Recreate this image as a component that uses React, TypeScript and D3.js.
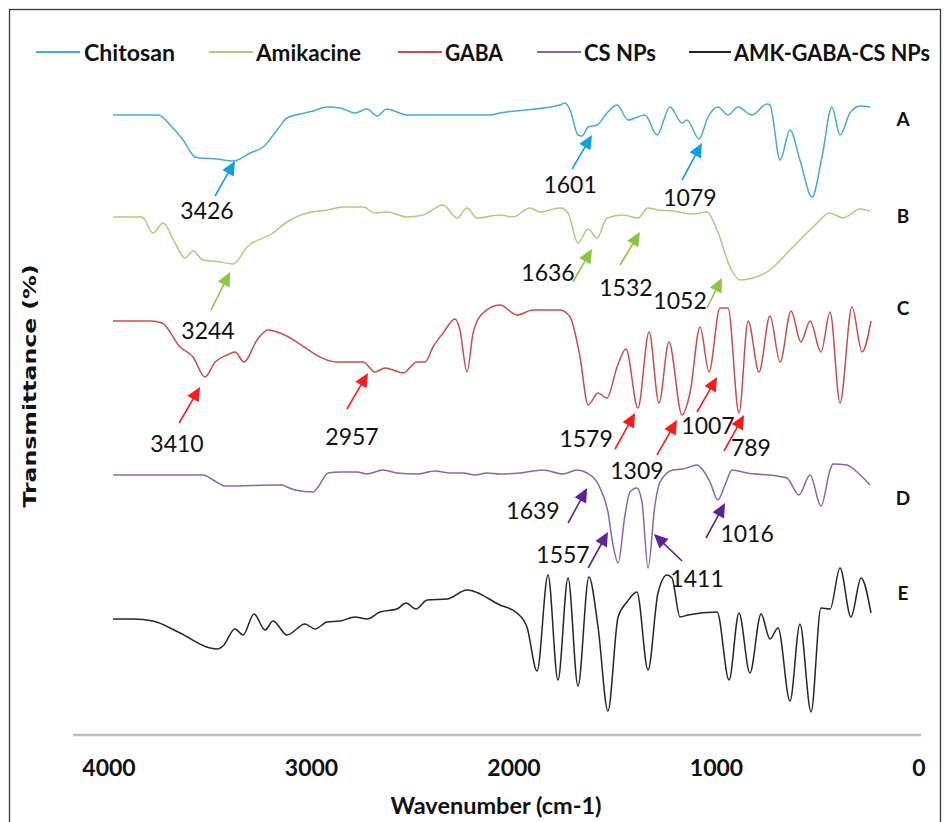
import React from "react";
import * as d3 from "d3";

// ---- data (wavenumber cm-1, stacked transmittance units) ----
const wavenumberTicks = [4000, 3000, 2000, 1000, 0];

const chitosan: [number, number][] = [
  [3980, 124], [3758, 124], [3689, 121.6], [3634, 119], [3575, 115.6], [3550, 115.4], [3466, 115.2], [3387, 114.8],
  [3303, 116.4], [3239, 117.6], [3170, 121], [3121, 123.4], [3057, 124.2], [2992, 124.8], [2923, 125.6], [2859, 125.4],
  [2785, 124.4], [2726, 125.2], [2676, 123.8], [2627, 125.2], [2578, 124.6], [2528, 124], [2118, 124], [2069, 124.4],
  [1773, 126], [1748, 126.4], [1723, 125], [1684, 120], [1664, 119.8], [1634, 121.6], [1590, 122], [1541, 124.4],
  [1491, 126], [1437, 123], [1353, 124], [1294, 120], [1230, 125.6], [1170, 122.4], [1146, 123], [1086, 119.2],
  [1042, 123.6], [993, 125.6], [943, 124], [894, 125.6], [825, 124], [751, 126.2], [736, 126], [686, 115], [637, 121],
  [588, 115], [528, 107.6], [479, 115.6], [430, 125.6], [390, 120], [341, 124.4], [291, 125.8], [242, 125.6],
];

const amikacine: [number, number][] = [
  [3980, 103.6], [3837, 103.6], [3783, 100.4], [3733, 102.4], [3674, 98.4], [3625, 95.4], [3585, 96.8], [3536, 95],
  [3452, 94.6], [3387, 94.2], [3318, 97.6], [3190, 100.4], [3121, 102.6], [3022, 104.4], [2923, 105], [2844, 105.6],
  [2745, 105.6], [2686, 104.4], [2627, 104.6], [2528, 103.6], [2449, 104], [2350, 106], [2281, 103.4], [2232, 105.4],
  [2183, 103.4], [2069, 104], [2005, 103.6], [1921, 105.4], [1872, 104.6], [1773, 105.4], [1733, 104.4], [1684, 98.4],
  [1634, 101.2], [1590, 99.4], [1541, 103.4], [1462, 104], [1388, 103.4], [1338, 105.4], [1289, 105], [1215, 104.8],
  [1116, 104.2], [1047, 104.6], [997, 101], [933, 93.6], [884, 91], [820, 91.4], [736, 93], [637, 97], [523, 101.6],
  [439, 104.4], [375, 103.4], [291, 105.2], [242, 104.8],
];

const gaba: [number, number][] = [
  [3980, 82.8], [3797, 82.8], [3738, 82.4], [3649, 77.6], [3585, 75.6], [3526, 71.6], [3476, 74.6], [3417, 76],
  [3378, 76.6], [3333, 74.6], [3269, 79], [3215, 81], [3170, 80.6], [2874, 74.6], [2745, 74.6], [2686, 72.6],
  [2637, 73.4], [2597, 73], [2548, 72.4], [2479, 74.6], [2439, 74.6], [2400, 77.6], [2350, 80.4], [2291, 83.2],
  [2267, 81], [2232, 72.6], [2202, 80.4], [2153, 84.4], [2069, 86], [1985, 84], [1906, 85], [1773, 85], [1723, 83.6],
  [1674, 75.6], [1634, 66], [1585, 68.4], [1541, 67.4], [1491, 73.6], [1447, 77.2], [1388, 65.4], [1333, 80.6],
  [1284, 66.4], [1235, 78.6], [1170, 64], [1131, 68.4], [1081, 81.6], [1037, 72.6], [983, 85.4], [943, 85.4],
  [889, 64.4], [844, 82.8], [790, 72.6], [736, 83.8], [686, 74.6], [632, 84.8], [583, 78.6], [538, 82.8], [484, 76.6],
  [439, 84.6], [390, 66.4], [331, 85.6], [281, 76.6], [237, 82.8],
];

const csNps: [number, number][] = [
  [3980, 52], [3536, 52], [3486, 51], [3427, 49.8], [3146, 50], [3121, 49.6], [3081, 49], [2992, 48.6], [2968, 49.6],
  [2918, 52.4], [2859, 52.6], [2775, 52.6], [2726, 52.2], [2647, 53], [2578, 52.4], [2479, 52.2], [2390, 52.8],
  [2316, 52.4], [2252, 52.4], [2192, 52], [2133, 52.4], [2069, 52.2], [1970, 52.4], [1857, 53], [1758, 52.2],
  [1689, 53], [1639, 52.4], [1575, 49.4], [1536, 44.6], [1511, 38], [1486, 34.4], [1452, 44], [1427, 48.6],
  [1393, 49.4], [1368, 46.6], [1338, 33.4], [1304, 46], [1279, 50.6], [1215, 53], [1165, 53.2], [1096, 54], [1067, 53],
  [1032, 50.6], [993, 47], [958, 50], [923, 53], [849, 52.4], [701, 51.8], [652, 51.4], [593, 48], [538, 52],
  [484, 45.8], [439, 53], [425, 54.2], [356, 54], [306, 52.6], [242, 50],
];

const amkGabaCsNps: [number, number][] = [
  [3980, 23.2], [3881, 23.2], [3783, 22.8], [3649, 20.4], [3501, 17.4], [3466, 17.2], [3437, 17.8], [3378, 21.2],
  [3338, 20], [3284, 24.2], [3229, 21], [3190, 22.8], [3121, 20], [3032, 22.2], [2983, 21.2], [2923, 22.6],
  [2859, 22.8], [2785, 23.6], [2726, 23.2], [2662, 24.6], [2578, 25.2], [2533, 26.4], [2484, 25.2], [2429, 27],
  [2331, 27.2], [2232, 29], [2069, 26], [1985, 24.4], [1936, 21.6], [1886, 12.8], [1832, 32], [1783, 11], [1733, 31.4],
  [1684, 9.8], [1630, 31.6], [1585, 21.6], [1536, 4.8], [1486, 23.6], [1442, 26.6], [1393, 28.6], [1338, 13],
  [1289, 28.4], [1244, 32], [1220, 31.4], [1180, 23.6], [1141, 24], [997, 24.6], [938, 11], [889, 24.4], [835, 12.4],
  [780, 24.2], [736, 19.2], [696, 21.4], [637, 6.8], [588, 22.2], [533, 4.6], [484, 25.4], [439, 25.2], [390, 33.4],
  [336, 23.6], [286, 31.4], [237, 24.4],
];

const seriesNames = ["Chitosan", "Amikacine", "GABA", "CS NPs", "AMK-GABA-CS NPs"];
const seriesData = [chitosan, amikacine, gaba, csNps, amkGabaCsNps];
const seriesLetters = ["A", "B", "C", "D", "E"];
const letterLevels = [123.4, 104, 85.6, 47.6, 28.6];
const letterWavenumber = 79;

type Ann = { text: string; s: number; tip: [number, number]; tail: [number, number]; at: [number, number] };
const annotations: Ann[] = [
  { text: "3426", s: 0, tip: [3378, 114.8], tail: [3476, 107.8], at: [3516, 105] },
  { text: "1601", s: 0, tip: [1615, 120], tail: [1713, 113.2], at: [1723, 110.2] },
  { text: "1079", s: 0, tip: [1072, 118.4], tail: [1170, 111], at: [1131, 107.6] },
  { text: "3244", s: 1, tip: [3402, 92.6], tail: [3496, 85], at: [3511, 81] },
  { text: "1636", s: 1, tip: [1615, 97.2], tail: [1709, 90.6], at: [1832, 92.6] },
  { text: "1532", s: 1, tip: [1378, 100.6], tail: [1476, 94], at: [1447, 89.6] },
  { text: "1052", s: 1, tip: [973, 91.4], tail: [1047, 85.4], at: [1180, 87] },
  { text: "3410", s: 2, tip: [3550, 69.6], tail: [3654, 62.4], at: [3664, 58.4] },
  { text: "2957", s: 2, tip: [2721, 72.4], tail: [2825, 65.2], at: [2800, 59.8] },
  { text: "1579", s: 2, tip: [1402, 64.4], tail: [1501, 57.2], at: [1644, 59.4] },
  { text: "1309", s: 2, tip: [1195, 63], tail: [1294, 56], at: [1393, 53] },
  { text: "1007", s: 2, tip: [997, 71.6], tail: [1096, 64.6], at: [1042, 62] },
  { text: "789", s: 2, tip: [864, 64], tail: [963, 56.8], at: [830, 57.6] },
  { text: "1639", s: 3, tip: [1639, 49.4], tail: [1733, 42.4], at: [1906, 45] },
  { text: "1557", s: 3, tip: [1536, 40.6], tail: [1634, 33.4], at: [1758, 36.2] },
  { text: "1411", s: 3, tip: [1309, 40.2], tail: [1170, 34.8], at: [1096, 31.4] },
  { text: "1016", s: 3, tip: [958, 46.4], tail: [1052, 39.4], at: [849, 40.4] },
];

// ---- styles ----
const W = 944;
const H = 822;
const lineColors = ["#45acd8", "#a9cf7a", "#cc4c4a", "#8667ae", "#262626"];
const arrowColors = ["#0aa2e6", "#8cc63e", "#ff1a1a", "#5e2199", "#000000"];
const legendLayout = [
  { x0: 36, x1: 80, tx: 84, tw: 91 },
  { x0: 209, x1: 253, tx: 256, tw: 105 },
  { x0: 398, x1: 442, tx: 445, tw: 58 },
  { x0: 537, x1: 581, tx: 584, tw: 72 },
  { x0: 689, x1: 731, tx: 734, tw: 196 },
];
const FONT = "Lato, 'Open Sans', 'DejaVu Sans', sans-serif";

export default function App() {
  const x = d3.scaleLinear().domain([4000, 0]).range([109, 919]);
  const y = d3.scaleLinear().domain([0, 130]).range([735, 85]);
  const line = d3
    .line<[number, number]>()
    .x((d) => x(d[0]))
    .y((d) => y(d[1]))
    .curve(d3.curveMonotoneX);

  const arrow = (a: Ann, i: number) => {
    const tx = x(a.tail[0]), ty = y(a.tail[1]);
    const hx = x(a.tip[0]), hy = y(a.tip[1]);
    const dx = hx - tx, dy = hy - ty;
    const len = Math.hypot(dx, dy);
    const ux = dx / len, uy = dy / len;
    const hl = 14, hw = 6.5;
    const bx = hx - ux * hl, by = hy - uy * hl;
    const px = -uy, py = ux;
    const tri = `M${hx},${hy}L${bx + px * hw},${by + py * hw}L${bx - px * hw},${by - py * hw}Z`;
    const c = arrowColors[a.s];
    return (
      <g key={"a" + i}>
        <line x1={tx} y1={ty} x2={bx + ux * 2} y2={by + uy * 2} stroke={c} strokeWidth={1.6} />
        <path d={tri} fill={c} />
        <text
          x={x(a.at[0])}
          y={y(a.at[1])}
          textAnchor="middle"
          dominantBaseline="central"
          fontFamily={FONT}
          fontSize={23}
          fill="#111"
        >
          {a.text}
        </text>
      </g>
    );
  };

  return (
    <svg
      width={W}
      height={H}
      style={{ position: "fixed", left: 0, top: 0, background: "#fff" }}
    >
      <rect x={0} y={0} width={W} height={H} fill="#fff" />
      <rect x={9.5} y={9.5} width={931} height={840} fill="none" stroke="#3a3a3a" strokeWidth={1.3} />

      {/* legend */}
      {seriesNames.map((n, i) => (
        <g key={n}>
          <line x1={legendLayout[i].x0} x2={legendLayout[i].x1} y1={52} y2={52} stroke={lineColors[i]} strokeWidth={2} />
          <text
            x={legendLayout[i].tx}
            y={52}
            dominantBaseline="central"
            fontFamily={FONT}
            fontWeight="bold"
            fontSize={22}
            textLength={legendLayout[i].tw}
            lengthAdjust="spacingAndGlyphs"
            fill="#111"
          >
            {n}
          </text>
        </g>
      ))}

      {/* x axis */}
      <line x1={73} x2={x(0) + 2} y1={y(0)} y2={y(0)} stroke="#bdbdbd" strokeWidth={2.5} />
      {wavenumberTicks.map((t) => (
        <text
          key={t}
          x={x(t)}
          y={767}
          textAnchor="middle"
          dominantBaseline="central"
          fontFamily={FONT}
          fontWeight="bold"
          fontSize={23}
          fill="#111"
        >
          {t}
        </text>
      ))}
      <text
        x={496}
        y={805}
        textAnchor="middle"
        dominantBaseline="central"
        fontFamily={FONT}
        fontWeight="bold"
        fontSize={23}
        textLength={211}
        lengthAdjust="spacingAndGlyphs"
        fill="#111"
      >
        Wavenumber (cm-1)
      </text>
      <text
        transform="translate(30,386) rotate(-90)"
        textAnchor="middle"
        dominantBaseline="central"
        fontFamily="'DejaVu Sans', Verdana, sans-serif"
        fontWeight="bold"
        fontSize={17}
        textLength={243}
        lengthAdjust="spacingAndGlyphs"
        fill="#111"
      >
        Transmittance (%)
      </text>

      {/* spectra */}
      {seriesData.map((d, i) => (
        <path key={seriesNames[i]} d={line(d) || ""} fill="none" stroke={lineColors[i]} strokeWidth={1.5} />
      ))}

      {/* series letters */}
      {seriesLetters.map((l, i) => (
        <text
          key={l}
          x={x(letterWavenumber)}
          y={y(letterLevels[i])}
          textAnchor="middle"
          dominantBaseline="central"
          fontFamily={FONT}
          fontWeight="bold"
          fontSize={19}
          fill="#111"
        >
          {l}
        </text>
      ))}

      {/* annotations */}
      {annotations.map(arrow)}
    </svg>
  );
}
